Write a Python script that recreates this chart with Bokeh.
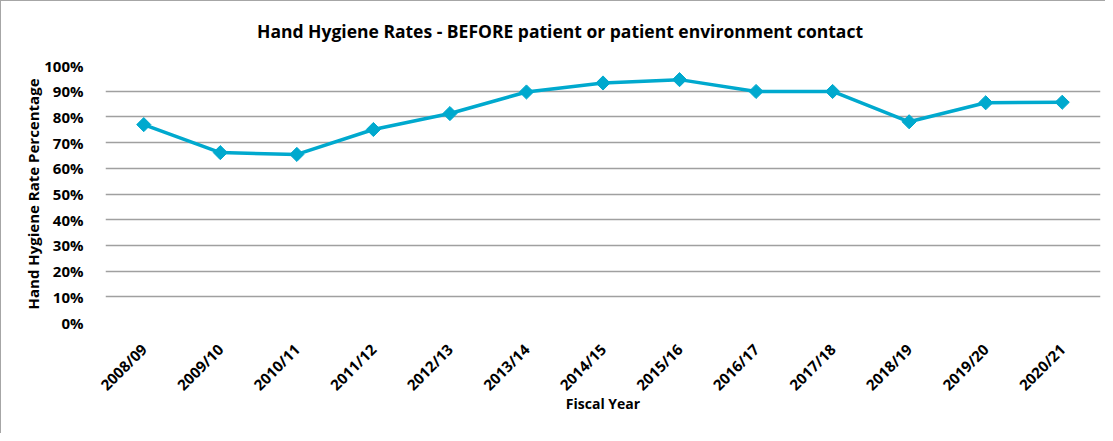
import math
from bokeh.plotting import figure
from bokeh.layouts import column
from bokeh.models import ColumnDataSource, Range1d, NumeralTickFormatter, FixedTicker, Div
from bokeh.embed import file_html
from bokeh.resources import INLINE

years = ["2008/09", "2009/10", "2010/11", "2011/12", "2012/13", "2013/14", "2014/15",
         "2015/16", "2016/17", "2017/18", "2018/19", "2019/20", "2020/21"]
rates = [0.770, 0.661, 0.654, 0.751, 0.813, 0.897, 0.932, 0.945, 0.899, 0.899, 0.781, 0.855, 0.857]

title_text = "Hand Hygiene Rates - BEFORE patient or patient environment contact"
FONT = "Open Sans"
LINE_COLOR = "#00A9CE"

src = ColumnDataSource(data=dict(x=years, y=rates))

title_div = Div(
    text=('<div style="width:1105px;box-sizing:border-box;padding-left:13px;'
          'margin-top:20px;line-height:20px;text-align:center;'
          'font-family:\'Open Sans\';font-weight:bold;font-size:17.5px;color:#000000;">'
          + title_text + '</div>'),
    width=1105, height=52, margin=0)

p = figure(width=1105, height=381, x_range=years, y_range=Range1d(0, 1.0),
           output_backend="svg", toolbar_location=None, margin=0,
           min_border_left=104, min_border_right=5, min_border_top=12, min_border_bottom=112)

p.line("x", "y", source=src, line_color=LINE_COLOR, line_width=3.5)
p.scatter("x", "y", source=src, marker="square", angle=math.pi / 4, size=10,
          fill_color=LINE_COLOR, line_color=LINE_COLOR)

p.outline_line_color = None
p.xgrid.grid_line_color = None
p.ygrid.grid_line_color = "#a0a0a0"
p.ygrid.grid_line_width = 1.5
p.yaxis.ticker = FixedTicker(ticks=[i / 10 for i in range(11)])
p.yaxis.formatter = NumeralTickFormatter(format="0%")

for ax in (p.xaxis, p.yaxis):
    ax.axis_line_color = None
    ax.major_tick_line_color = None
    ax.minor_tick_line_color = None
    ax.major_label_text_font = FONT
    ax.major_label_text_font_style = "bold"
    ax.major_label_text_color = "#000000"
    ax.axis_label_text_font = FONT
    ax.axis_label_text_font_style = "bold"
    ax.axis_label_text_color = "#000000"

p.yaxis.major_label_text_font_size = "15px"
p.xaxis.major_label_text_font_size = "15px"
p.yaxis.axis_label_text_font_size = "15px"
p.xaxis.axis_label_text_font_size = "14px"

p.yaxis.axis_label = "Hand Hygiene Rate Percentage"
p.yaxis.major_label_standoff = 16
p.yaxis.axis_label_standoff = -2
p.xaxis.axis_label = "Fiscal Year"
p.xaxis.major_label_orientation = math.pi / 4
p.xaxis.major_label_standoff = 18
p.xaxis.axis_label_standoff = -10

layout = column(title_div, p, spacing=0, width=1105, height=433,
                styles={"border-top": "1px solid #a6a6a6", "border-left": "1px solid #a6a6a6",
                        "background-color": "#ffffff"})

open("out.html", "w").write(file_html(layout, INLINE))
